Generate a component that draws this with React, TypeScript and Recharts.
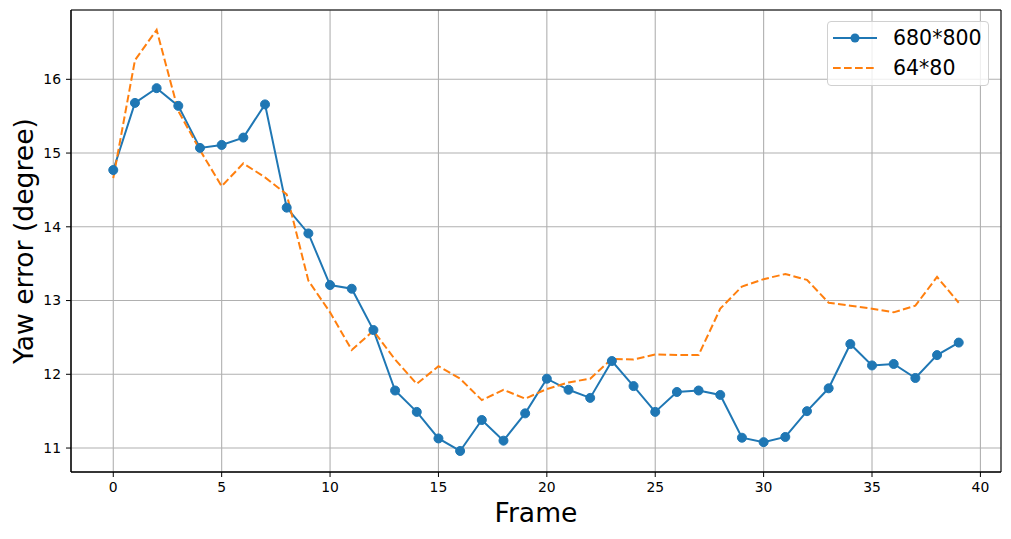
import React from "react";
import { CartesianGrid, Legend, Line, LineChart, ReferenceArea, XAxis, YAxis } from "recharts";

const FRAMES = [
  0, 1, 2, 3, 4, 5, 6, 7, 8, 9, 10, 11, 12, 13, 14, 15, 16, 17, 18, 19,
  20, 21, 22, 23, 24, 25, 26, 27, 28, 29, 30, 31, 32, 33, 34, 35, 36, 37, 38, 39,
];
const HIGH_RES = [
  14.77, 15.68, 15.88, 15.64, 15.07, 15.11, 15.21, 15.66, 14.26, 13.91,
  13.21, 13.16, 12.6, 11.78, 11.49, 11.13, 10.96, 11.38, 11.1, 11.47,
  11.94, 11.79, 11.68, 12.18, 11.84, 11.49, 11.76, 11.78, 11.72, 11.14,
  11.08, 11.15, 11.5, 11.81, 12.41, 12.12, 12.14, 11.95, 12.26, 12.43,
];
const LOW_RES = [
  14.66, 16.26, 16.67, 15.57, 15.04, 14.55, 14.86, 14.67, 14.44, 13.27,
  12.84, 12.33, 12.59, 12.2, 11.87, 12.11, 11.94, 11.65, 11.79, 11.67,
  11.8, 11.89, 11.94, 12.21, 12.2, 12.27, 12.26, 12.26, 12.89, 13.19,
  13.29, 13.36, 13.28, 12.97, 12.93, 12.89, 12.84, 12.93, 13.32, 12.97,
];
const X_TICKS = [0, 5, 10, 15, 20, 25, 30, 35, 40];
const Y_TICKS = [11, 12, 13, 14, 15, 16];
const X_DOMAIN: [number, number] = [-1.95, 40.95];
const Y_DOMAIN: [number, number] = [10.675, 16.94];

const BLUE = "#1f77b4";
const ORANGE = "#ff7f0e";
const FONT = "'DejaVu Sans', sans-serif";

const data = FRAMES.map((f, i) => ({ frame: f, hi: HIGH_RES[i], lo: LOW_RES[i] }));

function LegendBox() {
  return (
    <div
      style={{
        width: 162,
        height: 65,
        background: "rgba(255,255,255,0.8)",
        border: "1px solid #d0d0d0",
        borderRadius: 4,
        fontFamily: FONT,
        fontSize: 20.5,
        color: "#000",
        boxSizing: "border-box",
      }}
    >
      <svg width={162} height={65} style={{ position: "absolute", left: 0, top: 0 }}>
        <line x1={6} x2={50} y1={17} y2={17} stroke={BLUE} strokeWidth={2} />
        <circle cx={28} cy={17} r={4.5} fill={BLUE} />
        <line x1={6} x2={50} y1={47} y2={47} stroke={ORANGE} strokeWidth={2} strokeDasharray="7.7 3.3" />
        <text x={66} y={17} dominantBaseline="central" fontFamily={FONT} fontSize={20.5}>680*800</text>
        <text x={66} y={47} dominantBaseline="central" fontFamily={FONT} fontSize={20.5}>64*80</text>
      </svg>
    </div>
  );
}

export default function App() {
  const tick = { fontFamily: FONT, fontSize: 13.9, fill: "#000" };
  return (
    <div style={{ position: "absolute", left: 0, top: 0, background: "#fff" }}>
      <LineChart width={1011} height={539} data={data} margin={{ top: 10, right: 10, bottom: 0, left: 0 }}>
        <CartesianGrid stroke="#b0b0b0" strokeWidth={1.1} />
        <XAxis
          dataKey="frame"
          type="number"
          domain={X_DOMAIN}
          ticks={X_TICKS}
          allowDataOverflow
          height={67}
          tick={tick}
          tickSize={5}
          tickMargin={5}
          stroke="#000"
          label={(props: any) => {
            const vb = props.viewBox ?? { x: 71, y: 472, width: 930 };
            return (
              <text x={vb.x + vb.width / 2} y={vb.y + 49.7} textAnchor="middle" fontFamily={FONT} fontSize={26.6} fill="#000">
                Frame
              </text>
            );
          }}
        />
        <YAxis
          type="number"
          domain={Y_DOMAIN}
          ticks={Y_TICKS}
          allowDataOverflow
          width={71}
          tick={tick}
          tickSize={5}
          tickMargin={5}
          stroke="#000"
          label={(props: any) => {
            const vb = props.viewBox ?? { x: 0, y: 10, height: 462 };
            const cx = vb.x + 33.3;
            const cy = vb.y + vb.height / 2;
            return (
              <text
                x={cx}
                y={cy}
                transform={`rotate(-90, ${cx}, ${cy})`}
                textAnchor="middle"
                fontFamily={FONT}
                fontSize={26.6}
                fill="#000"
              >
                Yaw error (degree)
              </text>
            );
          }}
        />
        <Line
          dataKey="hi"
          name="680*800"
          stroke={BLUE}
          strokeWidth={2}
          dot={{ r: 4.5, fill: BLUE, stroke: BLUE, strokeWidth: 1 }}
          activeDot={false}
          isAnimationActive={false}
        />
        <Line
          dataKey="lo"
          name="64*80"
          stroke={ORANGE}
          strokeWidth={2}
          strokeDasharray="7.7 3.3"
          dot={false}
          activeDot={false}
          isAnimationActive={false}
        />
        <ReferenceArea
          x1={X_DOMAIN[0]}
          x2={X_DOMAIN[1]}
          y1={Y_DOMAIN[0]}
          y2={Y_DOMAIN[1]}
          fill="none"
          fillOpacity={0}
          stroke="#000"
          strokeWidth={1}
          ifOverflow="visible"
        />
        <Legend
          layout="horizontal"
          verticalAlign="middle"
          align="center"
          content={() => <LegendBox />}
          wrapperStyle={{ left: 827, top: 21, width: 164, height: 67 }}
        />
      </LineChart>
    </div>
  );
}
